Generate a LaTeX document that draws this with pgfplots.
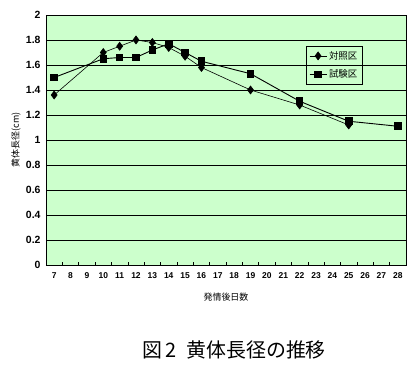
\documentclass[border=0pt]{standalone}
\usepackage{pgfplots}
\pgfplotsset{compat=1.18}
\usepackage{fontspec}
\setmainfont{Liberation Sans}
\newfontfamily\jp{Noto Sans CJK JP}
\definecolor{plotbg}{HTML}{CCFFCC}
\begin{document}
\begin{tikzpicture}
\useasboundingbox (0bp,0bp) rectangle (417bp,370bp);
\begin{axis}[at={(46bp,105bp)}, anchor=south west, scale only axis,
  width=360bp, height=250bp,
  xmin=6.5, xmax=28.5, ymin=0, ymax=2,
  axis background/.style={fill=plotbg},
  axis line style={black, line width=0.8bp},
  xtick={7,...,28},
  extra x ticks={7.5,8.5,...,27.5},
  extra x tick labels={},
  extra x tick style={major tick length=3bp, tick style={black, line width=0.6bp}, tick align=inside, grid=none},
  major tick length=0pt,
  ytick={0,0.2,...,2.01},
  yticklabels={0,0.2,0.4,0.6,0.8,1,1.2,1.4,1.6,1.8,2},
  ymajorgrids, grid style={black, line width=0.8bp},
  xtick pos=bottom, ytick pos=left,
  /pgf/number format/assume math mode=true,
  xticklabel style={font=\bfseries\fontsize{8.5}{9}\selectfont, yshift=-4bp},
  yticklabel style={font=\bfseries\fontsize{10.5}{11}\selectfont, xshift=-2bp},
  legend style={at={(0.722,0.876)}, anchor=north west, draw=black, fill=none,
    font=\jp\fontsize{9.5}{10}\selectfont, inner sep=3bp, row sep=5bp,
    cells={anchor=west}},
  legend cell align=left,
]
\addplot[black, line width=0.6bp, mark=diamond*, mark size=4bp, mark options={fill=black}]
 coordinates {(7,1.36) (10,1.70) (11,1.75) (12,1.80) (13,1.78) (14,1.74) (15,1.67) (16,1.58) (19,1.40) (22,1.28) (25,1.12)};
\addlegendentry{対照区}
\addplot[black, line width=0.9bp, mark=square*, mark size=3.3bp, mark options={fill=black}]
 coordinates {(7,1.50) (10,1.65) (11,1.66) (12,1.66) (13,1.72) (14,1.77) (15,1.70) (16,1.63) (19,1.53) (22,1.31) (25,1.15) (28,1.11)};
\addlegendentry{試験区}
\end{axis}
\node[rotate=90, font=\jp\fontsize{9}{10}\selectfont] at (16bp,230bp) {黄体長径(cm)};
\node[font=\jp\fontsize{9}{10}\selectfont] at (226bp,73bp) {発情後日数};
\node[font=\jp\fontsize{20}{22}\selectfont] at (234bp,20bp) {図\,2\enspace 黄体長径の推移};
\end{tikzpicture}
\end{document}
